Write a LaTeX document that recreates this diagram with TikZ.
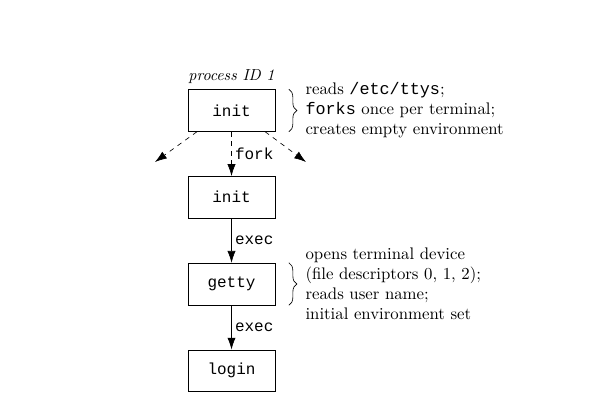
\documentclass[tikz,border=0pt]{standalone}
\usepackage{fontspec}
\setmonofont{Liberation Mono}
\usetikzlibrary{positioning,arrows.meta,decorations.pathreplacing}
\tikzset{
  proc/.style={draw,minimum width=1.91cm,minimum height=0.92cm,font=\ttfamily},
  arr/.style={-{Latex[length=2.6mm,width=1.8mm]}},
  lbl/.style={right,font=\ttfamily,inner sep=2pt},
  note/.style={align=left,anchor=west,inner sep=0pt,font=\fontsize{10.5}{12.6}\selectfont},
  brc/.style={decorate,decoration={brace,amplitude=5pt}}
}

\begin{document}
\begin{tikzpicture}[x=0.022cm,y=-0.022cm,node distance=0.975cm]
    \useasboundingbox (0,0) rectangle (596,417);
    %% processes
    \node[proc] (init) at (231.5,110.5) {init};
    \node[proc,below=of init] (child) {init};
    \node[proc,below=of child] (getty) {getty};
    \node[proc,below=of getty] (login) {login};
    \node[above=0pt of init,font=\itshape] (pid) {process ID 1};
    %% fork
    \coordinate (lt) at (155,162);
    \coordinate (rt) at (306,162);
    \draw[arr,dashed] ([xshift=-0.76cm]init.south) -- (lt);
    \draw[arr,dashed] ([xshift=0.74cm]init.south) -- (rt);
    \draw[arr,dashed] (init) -- node[lbl] (forklbl) {fork} (child);
    %% exec
    \draw[arr] (child) -- node[lbl] (exec1) {exec} (getty);
    \draw[arr] (getty) -- node[lbl] (exec2) {exec} (login);
    %% notes
    \draw[brc] ([xshift=0.3cm]init.north east) -- ([xshift=0.3cm]init.south east);
    \node[note] (initnote) at ([xshift=0.66cm]init.east)
        {reads \texttt{/etc/ttys};\\\texttt{forks} once per terminal;\\creates empty environment};
    \draw[brc] ([xshift=0.3cm]getty.north east) -- ([xshift=0.3cm]getty.south east);
    \node[note] (gettynote) at ([xshift=0.66cm]getty.east)
        {opens terminal device\\(file descriptors 0, 1, 2);\\reads user name;\\initial environment set};
\end{tikzpicture}
\end{document}
